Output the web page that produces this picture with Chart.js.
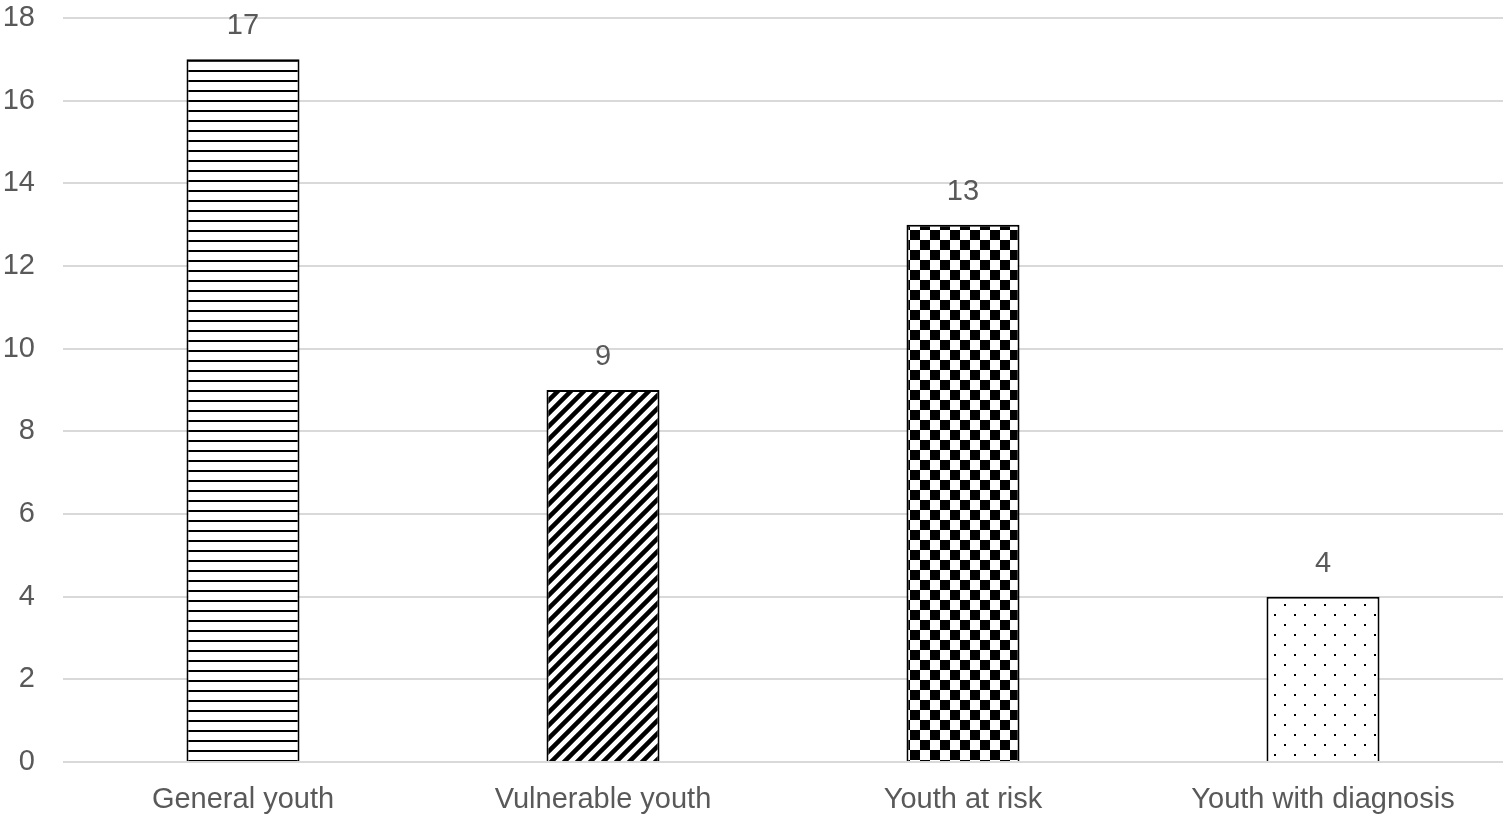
<!DOCTYPE html>
<html>
<head>
<meta charset="utf-8">
<script src="https://cdn.jsdelivr.net/npm/chart.js@4"></script>
<style>
    html, body { margin: 0; padding: 0; background: #fff; }
    #wrap { width: 1503px; height: 822px; }
</style>
</head>
<body>
<div id="wrap"><canvas id="chart" width="1503" height="822"></canvas></div>
<script>
// chart data
var categories = ['General youth', 'Vulnerable youth', 'Youth at risk', 'Youth with diagnosis'];
var counts = [17, 9, 13, 4];
var yTicks = { min: 0, max: 18, step: 2 };

var textGrey = '#595959';
var fontFamily = '"Liberation Sans", Arial, sans-serif';
var fontSize = 29;

// build a repeating fill for each bar
function makePattern(kind) {
    var size = 10;
    if (kind === 'dots' || kind === 'checker') size = 20;
    if (kind === 'diagonal') size = 13;
    var c = document.createElement('canvas');
    c.width = size;
    c.height = size;
    var g = c.getContext('2d');
    g.fillStyle = '#fff';
    g.fillRect(0, 0, size, size);
    g.fillStyle = '#000';
    g.strokeStyle = '#000';

    if (kind === 'horizontal') {
        g.fillRect(0, 0, size, 2);
    } else if (kind === 'diagonal') {
        g.lineWidth = 4.5;
        g.beginPath();
        g.moveTo(-5, size + 5); g.lineTo(size + 5, -5);
        g.moveTo(-5, 5); g.lineTo(5, -5);
        g.moveTo(size - 5, size + 5); g.lineTo(size + 5, size - 5);
        g.stroke();
    } else if (kind === 'checker') {
        g.fillRect(0, 0, 10, 10);
        g.fillRect(10, 10, 10, 10);
    } else if (kind === 'dots') {
        g.fillRect(4, 4, 2, 2);
        g.fillRect(14, 14, 2, 2);
    }
    return document.getElementById('chart').getContext('2d').createPattern(c, 'repeat');
}

var fills = [makePattern('horizontal'), makePattern('diagonal'), makePattern('checker'), makePattern('dots')];

// value labels above bars
var valueLabels = {
    id: 'valueLabels',
    afterDatasetsDraw(chart) {
        var ctx = chart.ctx;
        var meta = chart.getDatasetMeta(0);
        ctx.save();
        ctx.fillStyle = textGrey;
        ctx.font = fontSize + 'px ' + fontFamily;
        ctx.textAlign = 'center';
        ctx.textBaseline = 'middle';
        meta.data.forEach((bar, i) => {
            ctx.fillText(String(counts[i]), bar.x, bar.y - 33);
        });
        ctx.restore();
    }
};

new Chart(document.getElementById('chart').getContext('2d'), {
    type: 'bar',
    data: {
        labels: categories,
        datasets: [{
            data: counts,
            backgroundColor: fills,
            borderColor: '#000',
            borderWidth: 2,
            barPercentage: 0.314,
            categoryPercentage: 1.0
        }]
    },
    options: {
        responsive: false,
        animation: false,
        layout: { padding: { top: 18, right: 0, left: 3, bottom: 0 } },
        plugins: {
            legend: { display: false },
            tooltip: { enabled: false }
        },
        scales: {
            x: {
                grid: { display: false },
                border: { display: false },
                ticks: { color: textGrey, font: { size: fontSize, family: fontFamily }, padding: 13, maxRotation: 0 },
                afterFit: (s) => { s.paddingLeft = 0; s.paddingRight = 0; s.height = 60; }
            },
            y: {
                min: yTicks.min,
                max: yTicks.max,
                grid: { color: '#d9d9d9', lineWidth: 2, drawTicks: false },
                border: { display: false },
                ticks: { stepSize: yTicks.step, color: textGrey, font: { size: fontSize, family: fontFamily }, padding: 28 },
                afterFit: (s) => { s.paddingTop = 0; s.paddingBottom = 0; s.width = 60; }
            }
        }
    },
    plugins: [valueLabels]
});
</script>
</body>
</html>
